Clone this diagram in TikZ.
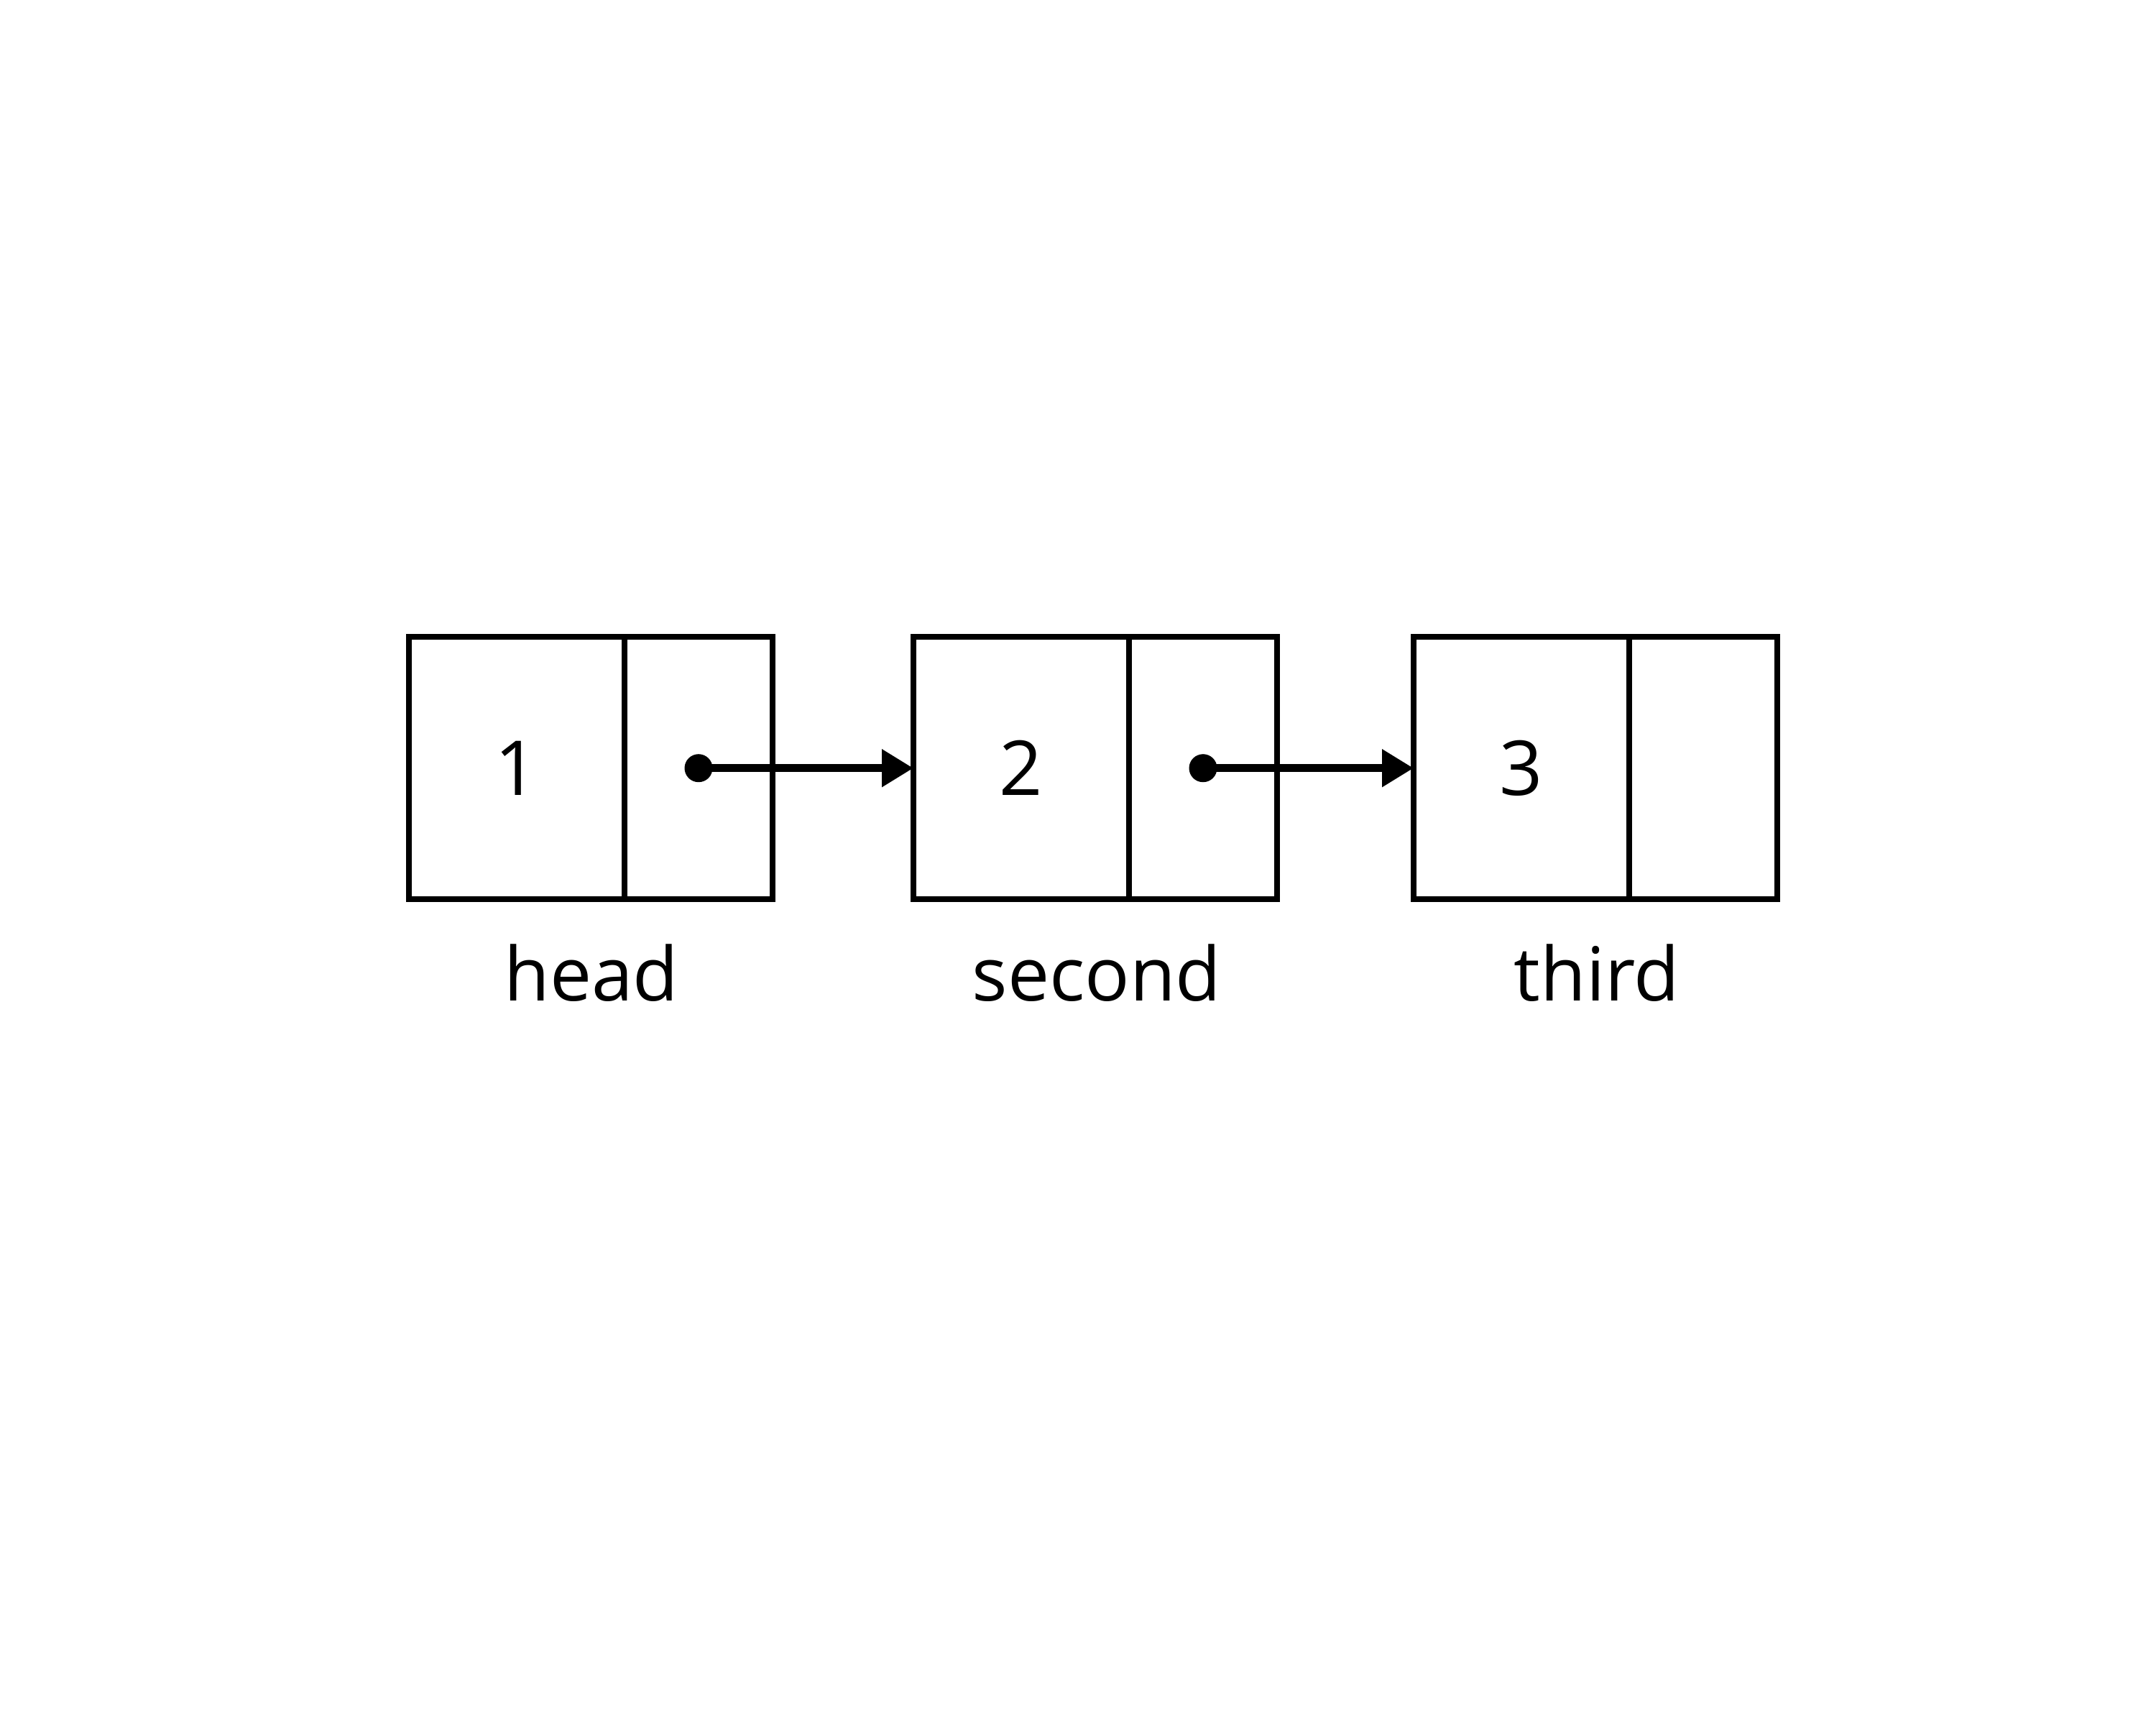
\documentclass[tikz,border=0pt]{standalone}
\usepackage{fontspec}
\setmainfont{Open Sans}
\usetikzlibrary{arrows.meta}
\begin{document}
\begin{tikzpicture}[
  cell/.style={draw, line width=0.08cm, rectangle, inner sep=0pt, outer sep=0pt, minimum height=3.645cm, font=\fontsize{30}{36}\selectfont},
  datacell/.style={cell, minimum width=3.00cm},
  ptrcell/.style={cell, minimum width=2.06cm, anchor=west},
  lbl/.style={font=\fontsize{29.5}{36}\selectfont, anchor=base, inner sep=0pt},
  link/.style={line width=0.115cm, -{Triangle[length=0.44cm,width=0.5cm]}},
  ptrdot/.style={circle, fill, inner sep=0pt, outer sep=0pt, minimum size=0.39cm}
]
\useasboundingbox (0,0) rectangle (30,24);
% nodes
\node[datacell] (d1) at (7.19,13.3125) {1};
\node[ptrcell] (p1) at (d1.east) {};
\node[datacell] (d2) at (14.21,13.3125) {2};
\node[ptrcell] (p2) at (d2.east) {};
\node[datacell] (d3) at (21.17,13.3125) {3};
\node[ptrcell] (p3) at (d3.east) {};
% labels
\node[lbl] (l1) at (8.23,10.07) {head};
\node[lbl] (l2) at (15.26,10.07) {second};
\node[lbl] (l3) at (22.22,10.07) {third};
% pointers
\node[ptrdot] (o1) at (p1.center) {};
\node[ptrdot] (o2) at (p2.center) {};
\draw[link] (o1.center) -- (d2.west);
\draw[link] (o2.center) -- (d3.west);
\end{tikzpicture}
\end{document}
